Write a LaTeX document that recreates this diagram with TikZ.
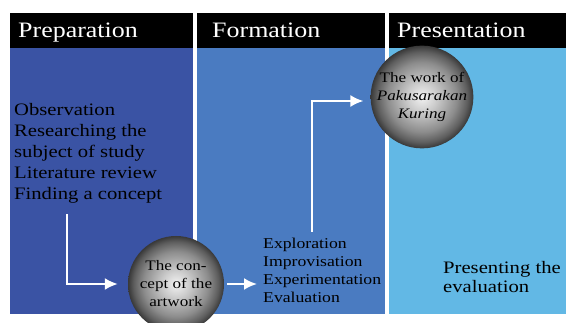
\documentclass[tikz,border=0pt]{standalone}
\usepackage{fontspec}
\setmainfont{Liberation Serif}[FakeStretch=1.18]
\usepackage{tikz}
\usetikzlibrary{arrows.meta}

\definecolor{prepblue}{HTML}{3A53A4}
\definecolor{formblue}{HTML}{4A7BC1}
\definecolor{presblue}{HTML}{62B8E5}

\pgfdeclareradialshading{orb}{\pgfpoint{0bp}{0bp}}{color(0bp)=(black!5); color(7bp)=(black!20); color(17bp)=(black!45); color(22bp)=(black!63); color(25bp)=(black!78); color(50bp)=(black!78)}

\tikzset{
  headtext/.style={text=white, font=\fontsize{22}{25}\selectfont, anchor=base west, inner sep=0pt},
  steps/.style={align=left, anchor=north west, inner sep=0pt},
  orbnode/.style={circle, shading=orb, align=center, inner sep=0pt, font=\fontsize{14.5}{18}\selectfont},
  flow/.style={white, line width=2.2pt, -{Latex[length=13pt,width=12pt]}}
}

\begin{document}
\begin{tikzpicture}[x=1pt,y=-1pt]
       \useasboundingbox (0,0) rectangle (566,323);

       % three columns
       \fill[black] (10,13) rectangle (193,48);
       \fill[prepblue] (10,48) rectangle (193,314);
       \fill[black] (197,13) rectangle (385,48);
       \fill[formblue] (197,48) rectangle (385,314);
       \fill[black] (389,13) rectangle (566,48);
       \fill[presblue] (389,48) rectangle (566,314);

       \node[headtext] (prephead) at (18,38) {Preparation};
       \node[headtext] (formhead) at (212,38) {Formation};
       \node[headtext] (preshead) at (397,38) {Presentation};

       \node[steps, font=\fontsize{17.5}{21}\selectfont] (prepsteps) at (14,103) {Observation\\Researching the\\subject of study\\Literature review\\Finding a concept};
       \node[steps, font=\fontsize{15}{18}\selectfont] (formsteps) at (263,238) {Exploration\\Improvisation\\Experimentation\\Evaluation};
       \node[steps, font=\fontsize{17.5}{19}\selectfont] (pressteps) at (443,261) {Presenting the\\evaluation};

       \node[orbnode, minimum size=96pt] (concept) at (176,284) {The con-\\cept of the\\artwork};
       \node[orbnode, minimum size=90pt] (work) at (422,97) {The work of\\\textit{Pakusarakan}\\\textit{Kuring}};

       % arrows
       \coordinate (prepend) at (67,214);
       \coordinate (formend) at (312,232);
       \draw[flow] (prepend) |- ([xshift=-10pt]concept.west);
       \draw[flow] ([xshift=3pt]concept.east) -- ([xshift=-6pt]concept.east -| formsteps.west);
       \draw[flow] (formend) |- ([xshift=-7pt,yshift=-4pt]work.west);
      \end{tikzpicture}
\end{document}
